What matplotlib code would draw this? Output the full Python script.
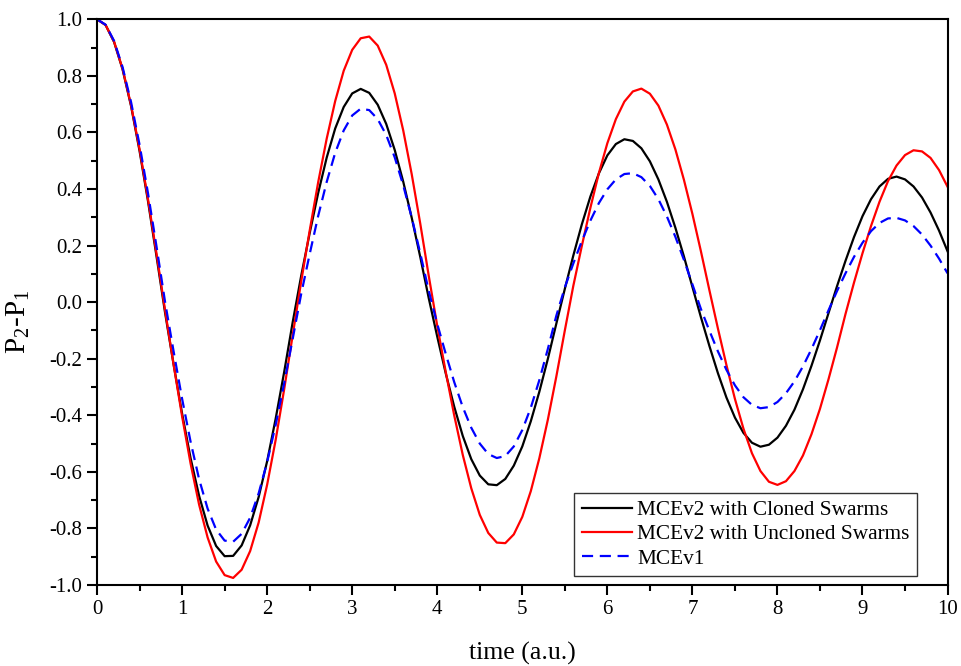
import numpy as np
import matplotlib
matplotlib.use('Agg')
import matplotlib.pyplot as plt
from matplotlib.ticker import MultipleLocator

plt.rcParams['font.family'] = ['Liberation Serif', 'DejaVu Serif']
plt.rcParams['mathtext.fontset'] = 'custom'
plt.rcParams['mathtext.rm'] = 'Liberation Serif'
plt.rcParams['mathtext.it'] = 'Liberation Serif:italic'

# ---- data (step 0.1 in time) ----
time = np.round(np.arange(0, 101) * 0.1, 1)

cloned = [
    1.000, 0.980, 0.920, 0.823, 0.693, 0.534, 0.355, 0.160, -0.038, -0.220,
    -0.394, -0.552, -0.685, -0.790, -0.862, -0.898, -0.897, -0.860, -0.789, -0.689,
    -0.562, -0.412, -0.247, -0.071, 0.093, 0.244, 0.386, 0.511, 0.614, 0.690,
    0.738, 0.754, 0.740, 0.698, 0.630, 0.538, 0.426, 0.298, 0.160, 0.014,
    -0.122, -0.252, -0.370, -0.473, -0.555, -0.613, -0.644, -0.647, -0.625, -0.578,
    -0.510, -0.421, -0.317, -0.201, -0.076, 0.047, 0.165, 0.275, 0.373, 0.455,
    0.519, 0.559, 0.576, 0.570, 0.544, 0.498, 0.434, 0.355, 0.263, 0.162,
    0.054, -0.053, -0.155, -0.251, -0.337, -0.408, -0.462, -0.497, -0.511, -0.504,
    -0.479, -0.437, -0.380, -0.308, -0.225, -0.135, -0.039, 0.056, 0.146, 0.230,
    0.304, 0.364, 0.409, 0.436, 0.444, 0.434, 0.409, 0.370, 0.317, 0.253,
    0.180,
]

uncloned = [
    1.000, 0.980, 0.921, 0.825, 0.696, 0.540, 0.362, 0.170, -0.029, -0.221,
    -0.404, -0.571, -0.716, -0.832, -0.917, -0.965, -0.975, -0.946, -0.880, -0.779,
    -0.645, -0.487, -0.308, -0.117, 0.073, 0.253, 0.424, 0.578, 0.711, 0.818,
    0.892, 0.933, 0.939, 0.907, 0.839, 0.738, 0.607, 0.452, 0.278, 0.093,
    -0.084, -0.247, -0.401, -0.540, -0.658, -0.752, -0.816, -0.850, -0.852, -0.821,
    -0.759, -0.668, -0.552, -0.416, -0.263, -0.100, 0.058, 0.199, 0.333, 0.456,
    0.562, 0.647, 0.709, 0.745, 0.755, 0.737, 0.695, 0.628, 0.540, 0.433,
    0.312, 0.180, 0.042, -0.093, -0.222, -0.342, -0.447, -0.534, -0.597, -0.635,
    -0.646, -0.633, -0.597, -0.542, -0.467, -0.377, -0.273, -0.161, -0.042, 0.069,
    0.173, 0.269, 0.355, 0.428, 0.483, 0.520, 0.537, 0.533, 0.510, 0.467,
    0.408,
]

mcev1 = [
    1.000, 0.981, 0.924, 0.831, 0.707, 0.556, 0.383, 0.195, 0.000, -0.174,
    -0.342, -0.494, -0.626, -0.730, -0.804, -0.843, -0.847, -0.819, -0.762, -0.676,
    -0.565, -0.434, -0.287, -0.130, 0.029, 0.170, 0.305, 0.425, 0.528, 0.607,
    0.660, 0.684, 0.679, 0.647, 0.591, 0.512, 0.413, 0.299, 0.173, 0.040,
    -0.077, -0.183, -0.283, -0.371, -0.444, -0.500, -0.537, -0.551, -0.544, -0.510,
    -0.452, -0.373, -0.276, -0.166, -0.048, 0.052, 0.137, 0.216, 0.288, 0.350,
    0.399, 0.434, 0.453, 0.456, 0.442, 0.411, 0.364, 0.303, 0.231, 0.150,
    0.063, -0.024, -0.101, -0.174, -0.239, -0.294, -0.336, -0.363, -0.375, -0.371,
    -0.353, -0.322, -0.280, -0.227, -0.166, -0.099, -0.029, 0.039, 0.102, 0.160,
    0.210, 0.251, 0.280, 0.296, 0.298, 0.289, 0.269, 0.239, 0.200, 0.154,
    0.102,
]

labels = ['MCEv2 with Cloned Swarms', 'MCEv2 with Uncloned Swarms', 'MCEv1']

# ---- plot ----
fig = plt.figure(figsize=(9.61, 6.66), dpi=100)
ax = fig.add_axes([0.101, 0.1216, 0.885, 0.8494])

ax.plot(time, cloned, color='black', lw=1.6, label=labels[0])
ax.plot(time, uncloned, color='red', lw=1.6, label=labels[1])
ax.plot(time, mcev1, color='blue', lw=1.6, ls=(0, (5, 3)), label=labels[2])

ax.set_xlim(0, 10)
ax.set_ylim(-1.0, 1.0)
ax.xaxis.set_major_locator(MultipleLocator(1))
ax.xaxis.set_minor_locator(MultipleLocator(0.5))
ax.yaxis.set_major_locator(MultipleLocator(0.2))
ax.yaxis.set_minor_locator(MultipleLocator(0.1))
ax.yaxis.set_major_formatter(matplotlib.ticker.FormatStrFormatter('%.1f'))

for s in ax.spines.values():
    s.set_linewidth(1.5)
ax.tick_params(which='major', direction='out', length=7, width=1.5, labelsize=15)
ax.tick_params(which='minor', direction='out', length=4, width=1.5)

ax.set_xlabel('time (a.u.)', fontsize=18.5, labelpad=17)
ax.set_ylabel(r'P$_2$-P$_1$', fontsize=21)
ax.yaxis.set_label_coords(-0.076, 0.465)

leg = ax.legend(loc='lower right', bbox_to_anchor=(0.964, 0.016), borderaxespad=0,
                fontsize=15.3, frameon=True, fancybox=False, edgecolor='black',
                borderpad=0.35, handlelength=2.35, labelspacing=0.2, handletextpad=0.25)
leg.get_frame().set_linewidth(1.0)

fig.savefig('out.png', dpi=100)
